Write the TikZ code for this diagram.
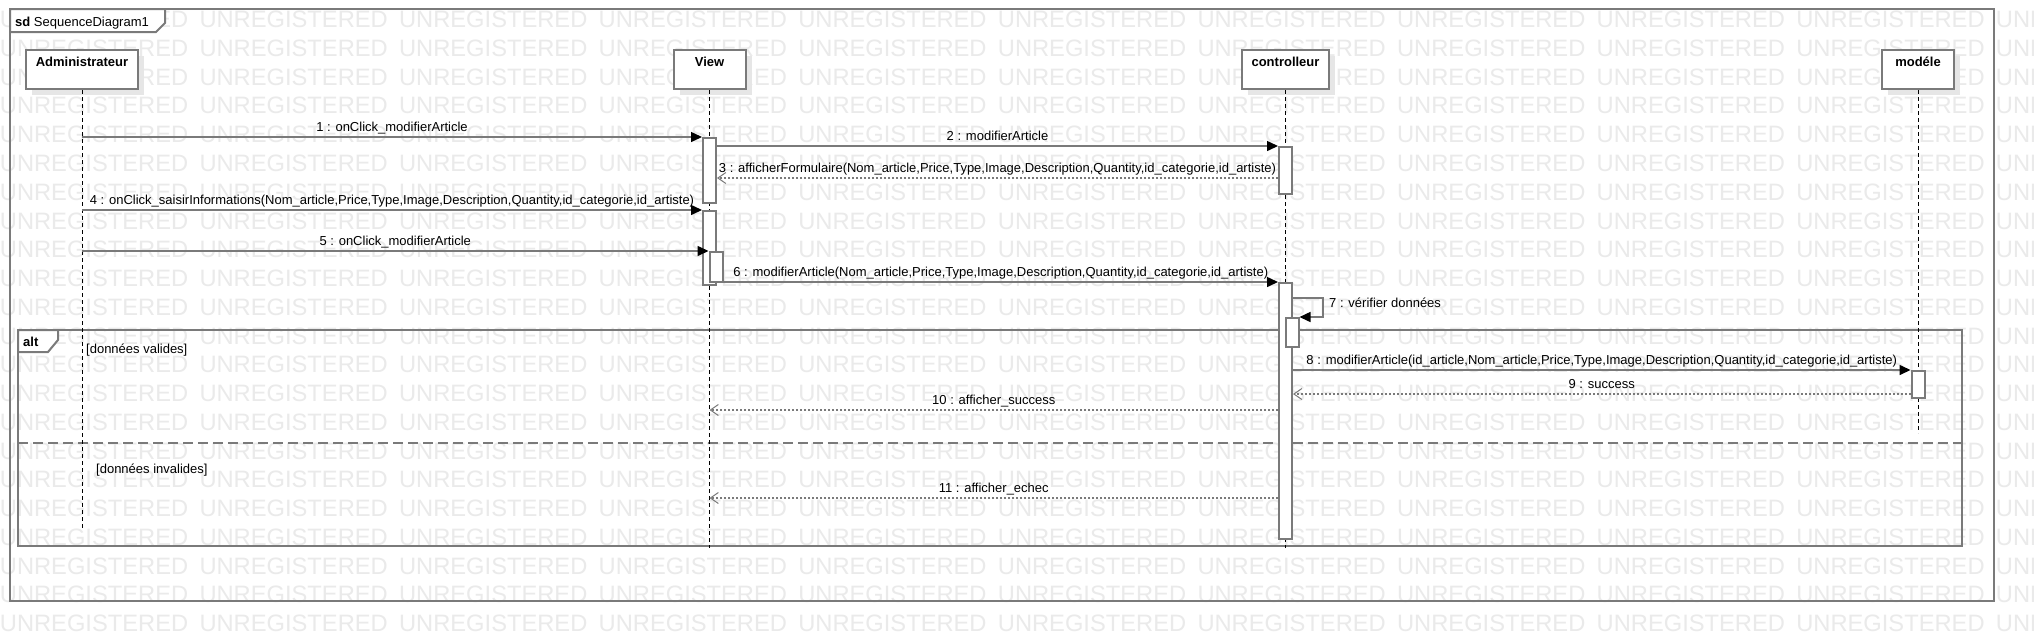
\documentclass[tikz,border=0pt]{standalone}
\usepackage{fontspec}
\setmainfont{Liberation Sans}
\usetikzlibrary{arrows.meta,shadows}
\definecolor{linegray}{HTML}{7A7A7A}
\definecolor{wmgray}{HTML}{EAEAEA}
\definecolor{shadowgray}{HTML}{E6E6E6}
\tikzset{
  wm/.style={font=\fontsize{23.7}{24}\selectfont, text=wmgray, inner sep=0pt, anchor=base west},
  frame/.style={draw=linegray, line width=2pt},
  tabbox/.style={draw=linegray, line width=2pt, fill=white},
  lbox/.style={draw=linegray, line width=2pt, fill=white, minimum height=39pt, inner sep=0pt,
    general shadow={fill=shadowgray, shadow xshift=6pt, shadow yshift=-6pt}},
  lname/.style={font=\fontsize{13}{15}\selectfont\bfseries, inner sep=0pt, anchor=base},
  lifeline/.style={draw=black, line width=0.9pt, dash pattern=on 4pt off 3pt},
  act/.style={draw=linegray, line width=2pt, fill=white, minimum width=13pt, inner sep=0pt, anchor=north},
  msg/.style={draw=linegray, line width=1.5pt, -{Triangle[length=11pt,width=10pt,color=black]}},
  ret/.style={draw=linegray, line width=1.5pt, dash pattern=on 2pt off 2pt,
    -{Straight Barb[length=8pt,width=11pt,line width=1pt]}},
  lbl/.style={font=\fontsize{13}{15}\selectfont, inner sep=0pt, anchor=base, yshift=5.5pt},
  txt/.style={font=\fontsize{13}{15}\selectfont, inner sep=0pt, anchor=base west},
}
\begin{document}
\begin{tikzpicture}[x=1pt,y=-1pt]
\useasboundingbox (0,0) rectangle (2034,641);
\fill[white] (0,0) rectangle (2034,641);
% watermark
\begin{scope}
\clip (0,0) rectangle (2034,641);
\foreach \k in {0,...,21} {
  \foreach \j in {0,...,10} {
    \node[wm] (wm-\k-\j) at ({199.6*\j-0.3}, {27.7+28.76*\k}) {UNREGISTERED};
  }
}
\end{scope}

% outer frame
\draw[frame] (10,9) rectangle (1994,601);
\draw[tabbox] (10,9) -- (165,9) -- (165,23) -- (156,32) -- (10,32) -- cycle;
\node[txt] (sd-t) at (15,26.5) {\textbf{sd} SequenceDiagram1};

% alt frame
\draw[frame] (18,330) rectangle (1962,546);
\draw[frame, dash pattern=on 10pt off 5pt] (18,443) -- (1962,443);
\draw[tabbox] (18,330) -- (58,330) -- (58,340) -- (48,352) -- (18,352) -- cycle;
\node[txt] (alt-t) at (23,346.5) {\textbf{alt}};
\node[txt] (g1) at (86,353.5) {[données valides]};
\node[txt] (g2) at (96,473.5) {[données invalides]};

% lifeline heads
\node[lbox, minimum width=112pt] (admin) at (82,69.5) {};
\node[lname] (admin-t) at (82,66.5) {Administrateur};
\node[lbox, minimum width=72pt] (view) at (709.5,69.5) {};
\node[lname] (view-t) at (709.5,66.5) {View};
\node[lbox, minimum width=87pt] (ctrl) at (1285.5,69.5) {};
\node[lname] (ctrl-t) at (1285.5,66.5) {controlleur};
\node[lbox, minimum width=72pt] (model) at (1918,69.5) {};
\node[lname] (model-t) at (1918,66.5) {modéle};

% lifelines
\coordinate (admin-end) at (82,530);
\coordinate (view-end) at (709.5,548);
\coordinate (ctrl-end) at (1285.5,548);
\coordinate (model-end) at (1918,433);
\draw[lifeline] (admin.south) -- (admin-end);
\draw[lifeline] (view.south) -- (view-end);
\draw[lifeline] (ctrl.south) -- (ctrl-end);
\draw[lifeline] (model.south) -- (model-end);

% activations
\node[act, minimum height=65pt] (v1) at (709.5,137) {};
\node[act, minimum height=47pt] (c1) at (1285.5,146) {};
\node[act, minimum height=74pt] (v2) at (709.5,210) {};
\node[act, minimum height=30pt] (v3) at (716,251) {};
\node[act, minimum height=256pt] (c2) at (1285.5,282) {};
\node[act, minimum height=29pt] (c3) at (1292,317) {};
\node[act, minimum height=27pt] (m1) at (1918,370) {};

% messages
\draw[msg] (v1.north west -| admin.south) -- node[lbl] (m1-t) {1 : onClick\_modifierArticle} (v1.north west);
\draw[msg] (c1.north west -| v1.east) -- node[lbl] (m2-t) {2 : modifierArticle} (c1.north west);
\draw[ret] (c1.west |- 0,178) -- node[lbl] (m3-t) {3 : afficherFormulaire(Nom\_article,Price,Type,Image,Description,Quantity,id\_categorie,id\_artiste)} (v1.east |- 0,178);
\draw[msg] (v2.north west -| admin.south) -- node[lbl] (m4-t) {4 : onClick\_saisirInformations(Nom\_article,Price,Type,Image,Description,Quantity,id\_categorie,id\_artiste)} (v2.north west);
\draw[msg] (v3.north west -| admin.south) -- node[lbl] (m5-t) {5 : onClick\_modifierArticle} (v3.north west);
\draw[msg] (c2.north west -| v3.east) -- node[lbl] (m6-t) {6 : modifierArticle(Nom\_article,Price,Type,Image,Description,Quantity,id\_categorie,id\_artiste)} (c2.north west);
\draw[msg] (c2.east |- 0,298) -- ++(30,0) -- ++(0,19) -- (c3.north east);
\node[txt] (m7-t) at (1329,307.5) {7 : vérifier données};
\draw[msg] (m1.north west -| c2.east) -- node[lbl] (m8-t) {8 : modifierArticle(id\_article,Nom\_article,Price,Type,Image,Description,Quantity,id\_categorie,id\_artiste)} (m1.north west);
\draw[ret] (m1.west |- 0,394) -- node[lbl] (m9-t) {9 : success} (c2.east |- 0,394);
\draw[ret] (c2.west |- 0,410) -- node[lbl] (m10-t) {10 : afficher\_success} (view-end |- 0,410);
\draw[ret] (c2.west |- 0,498) -- node[lbl] (m11-t) {11 : afficher\_echec} (view-end |- 0,498);
\end{tikzpicture}
\end{document}
